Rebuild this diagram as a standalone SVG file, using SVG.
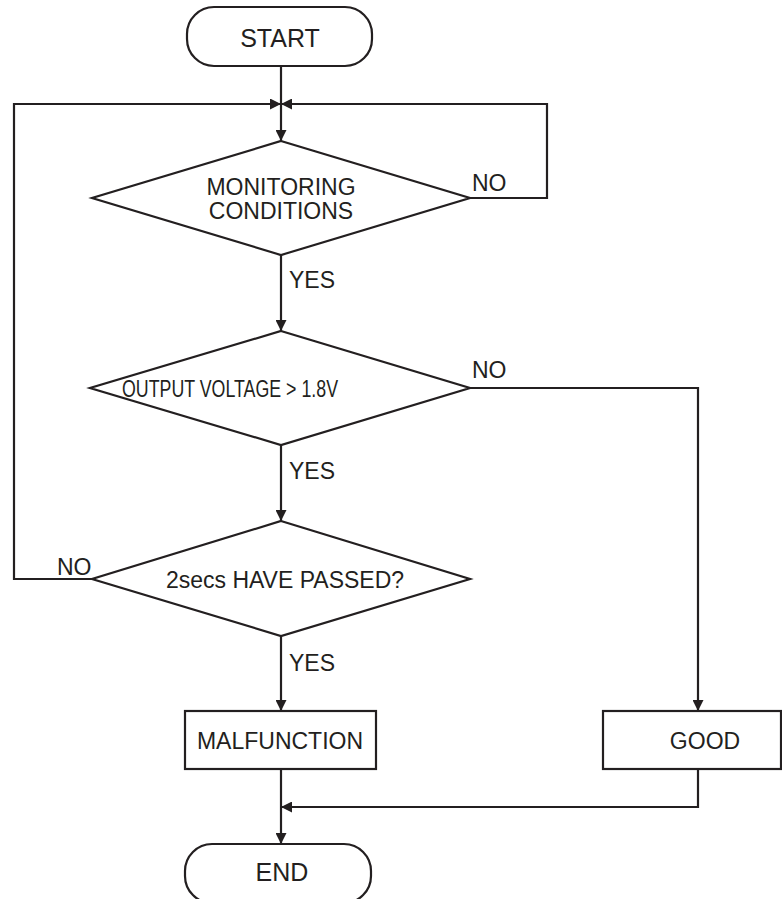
<svg xmlns="http://www.w3.org/2000/svg" width="782" height="899" viewBox="0 0 782 899">
<style>
.shape{fill:#ffffff;stroke:#231f20;stroke-width:2.2}
.line{fill:none;stroke:#231f20;stroke-width:2.2}
.t{font-family:"Liberation Sans",Arial,sans-serif;font-size:23px;fill:#231f20}
.c{text-anchor:middle}
.big{font-size:25px}
</style>
<defs>
<marker id="arr" viewBox="0 0 10 10" refX="10" refY="5" markerWidth="11" markerHeight="11" markerUnits="userSpaceOnUse" orient="auto">
<path d="M0,0 L10,5 L0,10 z" fill="#231f20"/>
</marker>
</defs>
<rect width="782" height="899" fill="#ffffff"/>
<g id="connectors">
<path class="line" d="M281,66 V141" marker-end="url(#arr)"/>
<path class="line" d="M470,198 H547 V104 H281" marker-end="url(#arr)"/>
<path class="line" d="M92,579 H14 V104 H281" marker-end="url(#arr)"/>
<path class="line" d="M281,255 V331" marker-end="url(#arr)"/>
<path class="line" d="M470,388 H698 V711" marker-end="url(#arr)"/>
<path class="line" d="M281,445 V521" marker-end="url(#arr)"/>
<path class="line" d="M281,636 V711" marker-end="url(#arr)"/>
<path class="line" d="M698,769 V807 H281" marker-end="url(#arr)"/>
<path class="line" d="M281,769 V844" marker-end="url(#arr)"/>
<text class="t" x="472" y="191">NO</text>
<text class="t" x="289" y="288">YES</text>
<text class="t" x="472" y="378">NO</text>
<text class="t" x="289" y="479">YES</text>
<text class="t" x="57" y="575">NO</text>
<text class="t" x="289" y="671">YES</text>
</g>
<g id="start">
<rect class="shape" x="187" y="7" width="185" height="59" rx="27" ry="27"/>
<text class="t c big" x="280" y="47">START</text>
</g>
<g id="monitoring">
<polygon class="shape" points="281,141 470,198 281,255 92,198"/>
<text class="t c" x="281" y="195">MONITORING</text>
<text class="t c" x="281" y="219">CONDITIONS</text>
</g>
<g id="voltage">
<polygon class="shape" points="281,331 470,388 281,445 90,388"/>
<text class="t c" x="230" y="397" textLength="216" lengthAdjust="spacingAndGlyphs">OUTPUT VOLTAGE &gt; 1.8V</text>
</g>
<g id="passed">
<polygon class="shape" points="281,521 470,579 281,636 92,579"/>
<text class="t c" x="285" y="588">2secs HAVE PASSED?</text>
</g>
<g id="malfunction">
<rect class="shape" x="185" y="711" width="191" height="58"/>
<text class="t c" x="280" y="749">MALFUNCTION</text>
</g>
<g id="good">
<rect class="shape" x="603" y="711" width="178" height="58"/>
<text class="t c" x="705" y="749">GOOD</text>
</g>
<g id="end">
<rect class="shape" x="185" y="844" width="186" height="59" rx="27" ry="27"/>
<text class="t c big" x="282" y="881">END</text>
</g>
</svg>
